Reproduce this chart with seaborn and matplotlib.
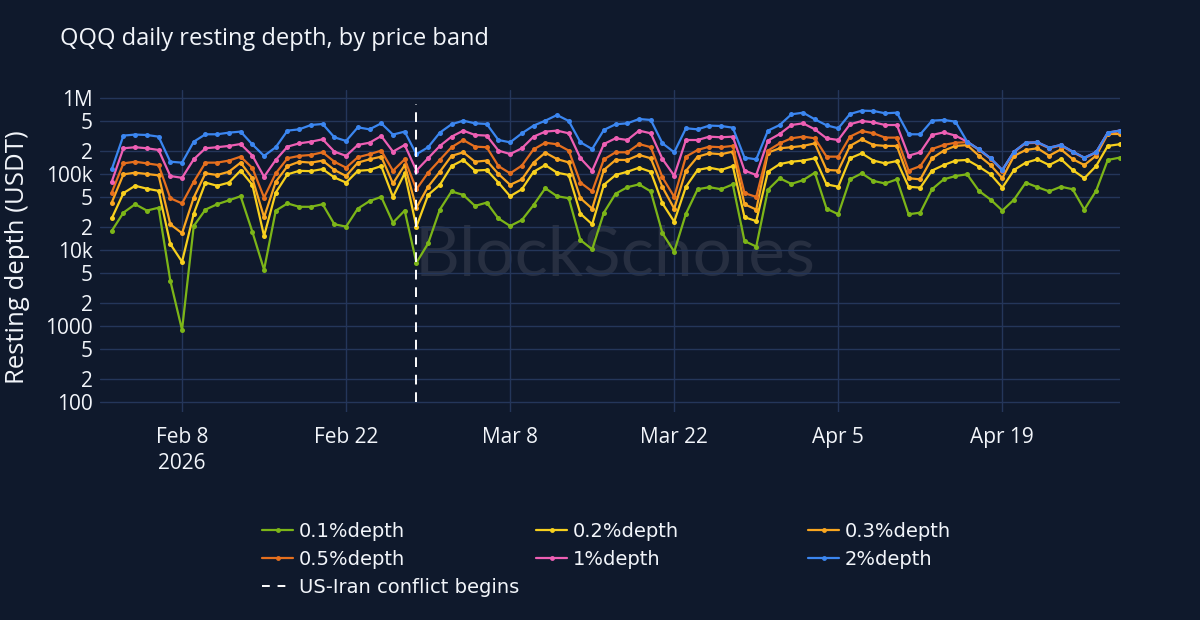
import numpy as np
import pandas as pd
import matplotlib
matplotlib.use("Agg")
import matplotlib.pyplot as plt
from matplotlib.lines import Line2D
import seaborn as sns

# ---------------- data ----------------
start_date = "2026-02-02"
end_date = "2026-04-29"
event_date = "2026-02-28"
event_label = "US-Iran conflict begins"

bands = ["0.1%depth", "0.2%depth", "0.3%depth", "0.5%depth", "1%depth", "2%depth"]
band_colors = ["#7CB518", "#F7D01E", "#F9A620", "#E56F1E", "#EE5FB4", "#3B86F0"]

depth_01 = [17.8e3, 31e3, 40e3, 33e3, 36e3, 3.95e3, 0.887e3, 20.7e3, 34e3, 40e3,
            45e3, 51e3, 17.4e3, 5.5e3, 33e3, 41e3, 37e3, 37e3, 40e3, 21.8e3,
            20.3e3, 35e3, 44e3, 50e3, 22.9e3, 33e3, 6.8e3, 12.2e3, 34e3, 59e3,
            53e3, 38e3, 42e3, 26e3, 20.7e3, 24.8e3, 39e3, 65e3, 51e3, 48e3,
            13.5e3, 10.2e3, 31e3, 55e3, 67e3, 73e3, 59e3, 16.6e3, 9.5e3, 30e3,
            63e3, 67e3, 63e3, 73e3, 13.1e3, 11.1e3, 62e3, 88e3, 74e3, 83e3,
            104e3, 35e3, 29.5e3, 85e3, 102e3, 81e3, 75e3, 85e3, 29.5e3, 31e3,
            63e3, 85e3, 94e3, 99e3, 60e3, 46e3, 33e3, 46e3, 77e3, 67e3,
            59e3, 68e3, 63e3, 34e3, 60e3, 153e3, 164e3]
depth_02 = [26e3, 56e3, 70e3, 64e3, 60e3, 12e3, 7.0e3, 30e3, 77e3, 70e3,
            77e3, 111e3, 72e3, 15.3e3, 57e3, 99e3, 110e3, 109e3, 116e3, 90e3,
            77e3, 110e3, 113e3, 127e3, 50e3, 102e3, 20.3e3, 53e3, 72e3, 127e3,
            153e3, 111e3, 113e3, 77e3, 51e3, 63e3, 107e3, 131e3, 104e3, 97e3,
            30e3, 21.8e3, 72e3, 97e3, 107e3, 121e3, 107e3, 41e3, 23.6e3, 68e3,
            113e3, 121e3, 113e3, 127e3, 27e3, 24e3, 107e3, 135e3, 145e3, 150e3,
            161e3, 73e3, 68e3, 161e3, 187e3, 150e3, 138e3, 148e3, 68e3, 66e3,
            111e3, 131e3, 150e3, 153e3, 125e3, 99e3, 66e3, 113e3, 141e3, 156e3,
            131e3, 157e3, 113e3, 88e3, 127e3, 234e3, 246e3]
depth_03 = [42e3, 99e3, 104e3, 100e3, 96e3, 21.8e3, 16.6e3, 49e3, 102e3, 97e3,
            107e3, 141e3, 88e3, 27e3, 79e3, 127e3, 145e3, 141e3, 150e3, 113e3,
            94e3, 141e3, 156e3, 169e3, 75e3, 131e3, 36e3, 68e3, 107e3, 173e3,
            193e3, 145e3, 150e3, 100e3, 72e3, 85e3, 141e3, 191e3, 157e3, 142e3,
            48e3, 35e3, 113e3, 153e3, 153e3, 178e3, 161e3, 67e3, 35e3, 110e3,
            169e3, 187e3, 182e3, 197e3, 40e3, 34e3, 191e3, 218e3, 225e3, 234e3,
            253e3, 113e3, 111e3, 234e3, 286e3, 241e3, 234e3, 234e3, 88e3, 85e3,
            161e3, 203e3, 234e3, 240e3, 174e3, 131e3, 88e3, 173e3, 207e3, 218e3,
            174e3, 211e3, 157e3, 131e3, 174e3, 336e3, 336e3]
depth_05 = [57e3, 138e3, 145e3, 138e3, 131e3, 48e3, 41e3, 79e3, 141e3, 141e3,
            150e3, 169e3, 120e3, 49e3, 102e3, 161e3, 173e3, 178e3, 193e3, 145e3,
            121e3, 166e3, 182e3, 203e3, 110e3, 156e3, 63e3, 104e3, 153e3, 225e3,
            280e3, 229e3, 225e3, 127e3, 102e3, 129e3, 211e3, 258e3, 246e3, 203e3,
            77e3, 59e3, 156e3, 193e3, 193e3, 248e3, 225e3, 90e3, 50e3, 169e3,
            207e3, 229e3, 225e3, 234e3, 56e3, 50e3, 203e3, 253e3, 295e3, 310e3,
            295e3, 169e3, 169e3, 310e3, 368e3, 343e3, 301e3, 301e3, 111e3, 127e3,
            213e3, 241e3, 258e3, 262e3, 208e3, 158e3, 111e3, 194e3, 254e3, 257e3,
            218e3, 237e3, 194e3, 161e3, 190e3, 345e3, 366e3]
depth_1 = [79e3, 218e3, 225e3, 218e3, 207e3, 94e3, 89e3, 156e3, 218e3, 225e3,
           234e3, 248e3, 175e3, 92e3, 153e3, 229e3, 253e3, 266e3, 286e3, 197e3,
           173e3, 241e3, 258e3, 316e3, 197e3, 241e3, 111e3, 161e3, 234e3, 310e3,
           372e3, 326e3, 320e3, 203e3, 183e3, 218e3, 310e3, 361e3, 372e3, 343e3,
           161e3, 110e3, 248e3, 295e3, 280e3, 372e3, 343e3, 157e3, 95e3, 280e3,
           280e3, 310e3, 304e3, 310e3, 111e3, 97e3, 275e3, 336e3, 441e3, 464e3,
           387e3, 295e3, 280e3, 451e3, 498e3, 479e3, 441e3, 441e3, 174e3, 193e3,
           326e3, 353e3, 320e3, 266e3, 211e3, 161e3, 113e3, 197e3, 258e3, 261e3,
           222e3, 241e3, 197e3, 164e3, 193e3, 350e3, 372e3]
depth_2 = [115e3, 320e3, 330e3, 326e3, 310e3, 145e3, 141e3, 266e3, 333e3, 333e3,
           350e3, 361e3, 245e3, 173e3, 225e3, 372e3, 387e3, 441e3, 455e3, 304e3,
           272e3, 411e3, 387e3, 464e3, 330e3, 361e3, 182e3, 225e3, 350e3, 451e3,
           503e3, 464e3, 455e3, 280e3, 261e3, 343e3, 433e3, 503e3, 597e3, 498e3,
           261e3, 213e3, 380e3, 451e3, 464e3, 529e3, 514e3, 253e3, 193e3, 399e3,
           387e3, 433e3, 428e3, 407e3, 164e3, 156e3, 372e3, 441e3, 610e3, 641e3,
           524e3, 437e3, 399e3, 616e3, 681e3, 675e3, 629e3, 641e3, 333e3, 333e3,
           503e3, 514e3, 488e3, 266e3, 211e3, 161e3, 113e3, 197e3, 258e3, 261e3,
           222e3, 241e3, 197e3, 164e3, 193e3, 350e3, 372e3]

y_ticks = [100, 200, 500, 1000, 2000, 5000, 1e4, 2e4, 5e4, 1e5, 2e5, 5e5, 1e6]
y_tick_labels = ["100", "2", "5", "1000", "2", "5", "10k", "2", "5", "100k", "2", "5", "1M"]
x_tick_dates = ["2026-02-08", "2026-02-22", "2026-03-08", "2026-03-22", "2026-04-05", "2026-04-19"]
x_tick_labels = ["Feb 8\n2026", "Feb 22", "Mar 8", "Mar 22", "Apr 5", "Apr 19"]

title = "QQQ daily resting depth, by price band"
y_title = "Resting depth (USDT)"
watermark = "BlockScholes"

# ---------------- frame ----------------
dates = pd.date_range(start_date, end_date, freq="D")
series = [depth_01, depth_02, depth_03, depth_05, depth_1, depth_2]
df = pd.concat(
    [pd.DataFrame({"date": dates, "depth": vals, "band": b}) for b, vals in zip(bands, series)],
    ignore_index=True,
)

# ---------------- style ----------------
BG = "#0F192C"
GRID = "#24365A"
TXT = "#F2F5FA"
sns.set_theme(style="dark")
plt.rcParams["font.family"] = ["Open Sans", "DejaVu Sans"]

fig = plt.figure(figsize=(12, 6.2), dpi=100, facecolor=BG)
ax = fig.add_axes([100 / 1200, 1 - 412 / 620, 1020 / 1200, 322 / 620])
ax.set_facecolor(BG)

ax.text(0.505, 0.485, watermark, transform=ax.transAxes, ha="center", va="center",
        fontsize=50, color="#272F41", zorder=0.5, family=["Lato", "DejaVu Sans"])

sns.lineplot(data=df, x="date", y="depth", hue="band", hue_order=bands,
             palette=dict(zip(bands, band_colors)), marker="o", markersize=3.6,
             markeredgewidth=0, linewidth=1.6, legend=False, ax=ax, zorder=3)

ev = pd.Timestamp(event_date)
ax.plot([ev, ev], [100, 8.3e5], color="white", linestyle=(0, (5, 4)), linewidth=1.4, zorder=4)

ax.set_yscale("log")
ax.set_ylim(73.8, 1.274e6)
ax.set_xlim(pd.Timestamp("2026-02-01"), pd.Timestamp("2026-04-29 01:00"))

ax.yaxis.set_major_locator(matplotlib.ticker.FixedLocator(y_ticks))
ax.yaxis.set_minor_locator(matplotlib.ticker.NullLocator())
ax.set_yticklabels(y_tick_labels)
ax.set_xticks([pd.Timestamp(d) for d in x_tick_dates])
ax.set_xticklabels(x_tick_labels, linespacing=1.3)

ax.grid(True, color=GRID, linewidth=1.0, zorder=0)
ax.set_axisbelow(True)
for s in ax.spines.values():
    s.set_visible(False)
ax.tick_params(axis="both", length=0, colors=TXT, labelsize=15)
ax.tick_params(axis="y", pad=5)
ax.tick_params(axis="x", pad=11)
ax.set_xlabel("")
ax.set_ylabel("")

fig.text(60 / 1200, 1 - 39 / 620, title, ha="left", va="center", fontsize=17, color=TXT)
fig.text(18 / 1200, 1 - 257 / 620, y_title, ha="center", va="center", rotation=90,
         fontsize=18.5, color=TXT)

# ---------------- legend (three columns) ----------------
def handle(c, ls="-", marker="o"):
    return Line2D([], [], color=c, linewidth=1.6, linestyle=ls, marker=marker,
                  markersize=3.5, markeredgewidth=0)

ev_handle = Line2D([], [], color="white", linewidth=1.4, linestyle=(0, (4, 4)))
cols = [
    ([handle(band_colors[0]), handle(band_colors[3]), ev_handle], [bands[0], bands[3], event_label], 262),
    ([handle(band_colors[1]), handle(band_colors[4])], [bands[1], bands[4]], 536),
    ([handle(band_colors[2]), handle(band_colors[5])], [bands[2], bands[5]], 808),
]
for hs, ls, x0 in cols:
    leg = fig.legend(hs, ls, loc="upper left", bbox_to_anchor=(x0 / 1200, 1 - 522 / 620),
                     frameon=False, handlelength=1.6, handletextpad=0.3,
                     labelspacing=0.46, borderpad=0, borderaxespad=0,
                     prop={"family": ["DejaVu Sans"], "size": 14})
    for t in leg.get_texts():
        t.set_color(TXT)

fig.savefig("out.png", dpi=100, facecolor=BG)
